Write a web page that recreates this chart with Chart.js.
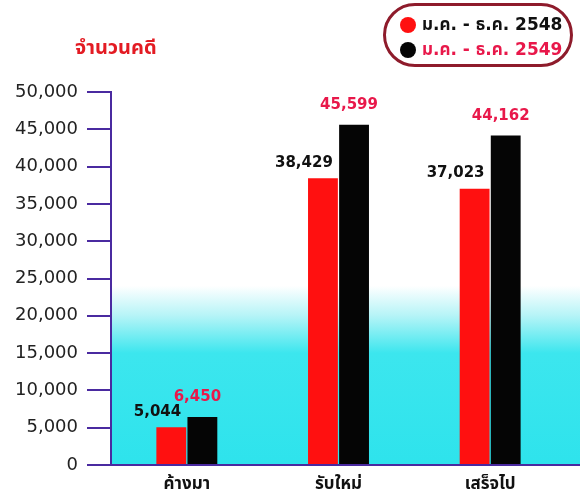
<!DOCTYPE html>
<html>
<head>
<meta charset="utf-8">
<script src="https://cdn.jsdelivr.net/npm/chart.js@4.4.1/dist/chart.umd.min.js"></script>
<style>
  html, body { margin: 0; padding: 0; background: #fff; }
  #wrap { position: relative; width: 580px; height: 495px; }
  #title {
    position: absolute; left: 75px; top: 33px;
    font: bold 20px "Noto Sans Thai", "Noto Sans", "DejaVu Sans", sans-serif;
    color: #e31b23;
  }
  #legend {
    position: absolute; left: 383px; top: 3px; width: 184px; height: 58px;
    border: 3px solid #8e1b2b; border-radius: 32px; background: #fff;
  }
  .item { position: absolute; left: 14px; height: 24px; display: flex; align-items: center;
    font: bold 17px "DejaVu Sans", "Noto Sans Thai", sans-serif; white-space: nowrap; }
  .dot { width: 16px; height: 16px; border-radius: 50%; margin-right: 6px; }
</style>
</head>
<body>
<div id="wrap">
  <canvas id="chart" width="580" height="495"></canvas>
  <div id="title">จำนวนคดี</div>
  <div id="legend">
    <div class="item" style="top:7px;color:#111"><span class="dot" style="background:#ff1010"></span>ม.ค. - ธ.ค. 2548</div>
    <div class="item" style="top:32px;color:#e8184a"><span class="dot" style="background:#050505"></span>ม.ค. - ธ.ค. 2549</div>
  </div>
</div>
<script>
const categories = ['ค้างมา', 'รับใหม่', 'เสร็จไป']
const cases_2548 = [5044, 38429, 37023]
const cases_2549 = [6450, 45599, 44162]
const tick_values = [0, 5000, 10000, 15000, 20000, 25000, 30000, 35000, 40000, 45000, 50000]

const axisColor = '#4a2aa0'

// cyan wash at the bottom of the plot area (runs on to the right edge)
const bgPlugin = {
    id: 'bg',
    beforeDraw(chart) {
        const a = chart.chartArea
        const c = chart.ctx
        const g = c.createLinearGradient(0, a.top, 0, a.bottom)
        g.addColorStop(0, '#ffffff')
        g.addColorStop(0.52, '#ffffff')
        g.addColorStop(0.6, '#b5f4f7')
        g.addColorStop(0.7, '#3ce6ee')
        g.addColorStop(1, '#2ee3ec')
        c.save()
        c.fillStyle = g
        c.fillRect(a.left, a.top, chart.width - a.left, a.bottom - a.top)
        c.restore()
    },
    afterDraw(chart) {
        const a = chart.chartArea
        const c = chart.ctx
        c.save()
        c.strokeStyle = axisColor
        c.lineWidth = 2
        c.beginPath()
        c.moveTo(a.right, a.bottom)
        c.lineTo(chart.width, a.bottom)
        c.stroke()
        c.restore()
    }
}

// number labels over the bars
const labelPlugin = {
    id: 'vals',
    afterDatasetsDraw(chart) {
        const c = chart.ctx
        c.save()
        c.font = 'bold 15px "DejaVu Sans", sans-serif'
        c.textBaseline = 'bottom'
        chart.data.datasets.forEach((ds, i) => {
            chart.getDatasetMeta(i).data.forEach((bar, j) => {
                const txt = ds.data[j].toLocaleString('en-US')
                if (i === 0) {
                    c.fillStyle = '#111'
                    c.textAlign = 'right'
                    c.fillText(txt, bar.x + bar.width / 2 - 5, bar.y - 8)
                } else {
                    c.fillStyle = '#e8184a'
                    c.textAlign = 'center'
                    c.fillText(txt, bar.x - 5, bar.y - 12)
                }
            })
        })
        c.restore()
    }
}

const chart = new Chart(document.getElementById('chart').getContext('2d'), {
    type: 'bar',
    data: {
        labels: categories,
        datasets: [{
            label: 'ม.ค. - ธ.ค. 2548',
            data: cases_2548,
            backgroundColor: '#ff1010',
            borderWidth: 0
        }, {
            label: 'ม.ค. - ธ.ค. 2549',
            data: cases_2549,
            backgroundColor: '#050505',
            borderWidth: 0
        }]
    },
    options: {
        responsive: false,
        animation: false,
        devicePixelRatio: 1,
        categoryPercentage: 0.41,
        barPercentage: 0.96,
        layout: { padding: { top: 92, left: 0, right: 14, bottom: 0 } },
        plugins: {
            legend: { display: false },
            title: { display: false },
            tooltip: { enabled: false }
        },
        scales: {
            x: {
                grid: { display: false },
                border: { display: true, color: axisColor, width: 2 },
                ticks: {
                    color: '#111',
                    font: { family: '"Noto Sans Thai", "DejaVu Sans", sans-serif', size: 17, weight: 'bold' },
                    padding: 2
                },
                afterFit(scale) { scale.height = 30 }
            },
            y: {
                min: 0,
                max: 50000,
                afterBuildTicks(scale) { scale.ticks = tick_values.map(v => ({ value: v })) },
                grid: { drawOnChartArea: false, drawTicks: true, tickLength: 24, color: axisColor, lineWidth: 2 },
                border: { display: true, color: axisColor, width: 2 },
                ticks: {
                    color: '#222',
                    padding: 9,
                    font: { family: '"DejaVu Sans", sans-serif', size: 18 },
                    callback: v => v.toLocaleString('en-US')
                },
                afterFit(scale) { scale.width = 111 }
            }
        }
    },
    plugins: [bgPlugin, labelPlugin]
})
</script>
</body>
</html>
